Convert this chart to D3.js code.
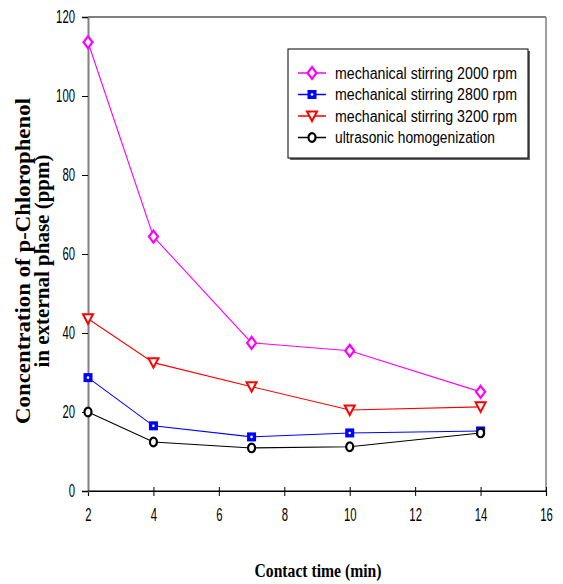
<!DOCTYPE html>
<html lang="en">
  <head>
    <meta charset="UTF-8" />
    <title>p-Chlorophenol vs contact time</title>
    <script src="https://d3js.org/d3.v7.min.js"></script>
    <style>
      body { margin: 0; background: #fff; }
    </style>
  </head>
  <body>
    <script>
      // data
      var times = [2, 4, 7, 10, 14];
      var stir2000 = [113.6, 64.4, 37.5, 35.5, 25.1];
      var stir2800 = [28.7, 16.5, 13.7, 14.7, 15.2];
      var stir3200 = [43.6, 32.5, 26.4, 20.5, 21.3];
      var ultrasonic = [20.0, 12.4, 10.9, 11.2, 14.7];
      var seriesNames = [
        "mechanical stirring  2000 rpm",
        "mechanical stirring  2800 rpm",
        "mechanical stirring  3200 rpm",
        "ultrasonic homogenization"
      ];
      var xTicks = [2, 4, 6, 8, 10, 12, 14, 16];
      var yTicks = [0, 20, 40, 60, 80, 100, 120];

      var series = [
        { name: seriesNames[0], values: stir2000, color: "#ff00ff", shape: "diamond" },
        { name: seriesNames[1], values: stir2800, color: "#0000ff", shape: "square" },
        { name: seriesNames[2], values: stir3200, color: "#ff0000", shape: "triangle" },
        { name: seriesNames[3], values: ultrasonic, color: "#000000", shape: "circle" }
      ];

      var sans = "'Liberation Sans', Arial, sans-serif";
      var serif = "'Liberation Serif', 'Times New Roman', serif";

      var width = 563, height = 584;
      var margin = { top: 17, right: 17, bottom: 93, left: 88 };
      var w = width - margin.left - margin.right,
        h = height - margin.top - margin.bottom;

      var svg = d3.select("body").append("svg")
        .attr("width", width).attr("height", height);
      var g = svg.append("g")
        .attr("transform", "translate(" + margin.left + "," + margin.top + ")");

      var x = d3.scaleLinear().domain([2, 16]).range([0, w]);
      var y = d3.scaleLinear().domain([0, 120]).range([h, 0]);

      // plot frame
      g.append("line").attr("x1", 0).attr("x2", w).attr("y1", 0).attr("y2", 0)
        .attr("stroke", "#000").attr("stroke-width", 1);
      g.append("line").attr("x1", w).attr("x2", w).attr("y1", 0).attr("y2", h)
        .attr("stroke", "#808080").attr("stroke-width", 1.5);

      // axes
      var xAxis = g.append("g").attr("transform", "translate(0," + h + ")")
        .call(d3.axisBottom(x).tickValues(xTicks).tickSize(5).tickPadding(12));
      xAxis.select(".domain").attr("stroke", "#000").attr("stroke-width", 1.2);
      xAxis.selectAll(".tick line").attr("y1", -4).attr("stroke", "#000");

      var yAxis = g.append("g")
        .call(d3.axisLeft(y).tickValues(yTicks).tickSize(6).tickPadding(7));
      yAxis.select(".domain").attr("stroke", "#808080").attr("stroke-width", 2);
      yAxis.selectAll(".tick line").attr("stroke", "#000");

      // narrow digits, like the original condensed face
      svg.selectAll(".tick text")
        .attr("font-size", 18).attr("font-family", sans)
        .style("font-size", "18px").style("font-family", sans)
        .attr("fill", "#000")
        .attr("textLength", function (d) { return String(d).length * 6.3; })
        .attr("lengthAdjust", "spacingAndGlyphs");

      // bottom axis line drawn again over the gray corner
      g.append("line").attr("x1", 0).attr("x2", w).attr("y1", h).attr("y2", h)
        .attr("stroke", "#000").attr("stroke-width", 1.2);

      var line = d3.line()
        .x(function (d, i) { return x(times[i]); })
        .y(function (d) { return y(d); });

      function drawMarker(sel, shape, color) {
        if (shape === "diamond") {
          sel.append("path").attr("d", "M0,-6L4.5,0L0,6L-4.5,0Z")
            .attr("fill", "#fff").attr("stroke", color).attr("stroke-width", 2.2);
        } else if (shape === "square") {
          sel.append("rect").attr("x", -4.5).attr("y", -4.5).attr("width", 9).attr("height", 9)
            .attr("fill", color);
          sel.append("circle").attr("r", 1.3).attr("fill", "#fff");
        } else if (shape === "triangle") {
          sel.append("path").attr("d", "M-5,-4.5L5,-4.5L0,5Z")
            .attr("fill", "#fff").attr("stroke", color).attr("stroke-width", 2);
        } else {
          sel.append("ellipse").attr("rx", 3.5).attr("ry", 4.3)
            .attr("fill", "#fff").attr("stroke", color).attr("stroke-width", 2.2);
        }
      }

      series.forEach(function (s) {
        g.append("path").datum(s.values)
          .attr("d", line).attr("fill", "none")
          .attr("stroke", s.color).attr("stroke-width", 1.1);
        g.selectAll(null).data(s.values).enter().append("g")
          .attr("transform", function (d, i) {
            return "translate(" + x(times[i]) + "," + y(d) + ")";
          })
          .each(function () { drawMarker(d3.select(this), s.shape, s.color); });
      });

      // legend
      var lx = 288, ly = 49, lw = 240, lh = 109;
      svg.append("rect").attr("x", lx + 2).attr("y", ly + 2).attr("width", lw).attr("height", lh)
        .attr("fill", "#666");
      svg.append("rect").attr("x", lx).attr("y", ly).attr("width", lw).attr("height", lh)
        .attr("fill", "#fff").attr("stroke", "#000").attr("stroke-width", 1);
      var leg = svg.selectAll(".leg").data(series).enter().append("g")
        .attr("class", "leg")
        .attr("transform", function (d, i) { return "translate(" + (lx + 24) + "," + (ly + 24 + i * 21.5) + ")"; });
      leg.append("line").attr("x1", -14).attr("x2", 14)
        .attr("stroke", function (d) { return d.color; }).attr("stroke-width", 1.5);
      leg.each(function (d) { drawMarker(d3.select(this), d.shape, d.color); });
      leg.append("text").attr("x", 23).attr("dy", "0.35em")
        .style("font-family", sans).style("font-size", "16px").attr("fill", "#000")
        .attr("textLength", function (d, i) { return i === 3 ? 160 : 182; })
        .attr("lengthAdjust", "spacingAndGlyphs")
        .text(function (d) { return d.name; });

      // axis titles
      var yt = svg.append("text")
        .style("font-family", serif).style("font-weight", "bold").style("font-size", "20px")
        .attr("transform", "translate(23,261) rotate(-90)")
        .attr("text-anchor", "middle");
      yt.append("tspan").attr("x", 0).attr("dy", "0.35em")
        .attr("textLength", 326).attr("lengthAdjust", "spacingAndGlyphs")
        .text("Concentration of p-Chlorophenol");
      yt.append("tspan").attr("x", 0).attr("dy", "0.95em")
        .attr("textLength", 213).attr("lengthAdjust", "spacingAndGlyphs")
        .text("in external phase (ppm)");

      svg.append("text")
        .style("font-family", serif).style("font-weight", "bold").style("font-size", "18px")
        .attr("x", 318).attr("y", 577).attr("text-anchor", "middle")
        .attr("textLength", 127).attr("lengthAdjust", "spacingAndGlyphs")
        .text("Contact time (min)");
    </script>
  </body>
</html>
